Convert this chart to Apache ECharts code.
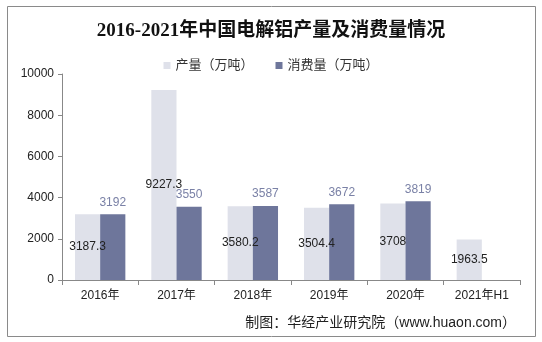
<!DOCTYPE html>
<html><head><meta charset="utf-8">
<script src="https://cdn.jsdelivr.net/npm/echarts@6/dist/echarts.min.js"></script>
<style>html,body{margin:0;padding:0;background:#fff}#c{width:542px;height:342px}</style>
</head><body><div id="c"></div>
<script>
var categories = ['2016年','2017年','2018年','2019年','2020年','2021年H1'];
var production = [3187.3, 9227.3, 3580.2, 3504.4, 3708, 1963.5];
var consumption = [3192, 3550, 3587, 3672, 3819, null];
var seriesNames = ['产量（万吨）','消费量（万吨）'];
var yTicks = [0, 2000, 4000, 6000, 8000, 10000];

var chart = echarts.init(document.getElementById('c'));
var font = '"Liberation Sans", Arial, "Noto Sans CJK SC", sans-serif';
chart.setOption({
  backgroundColor: '#fff',
  animation: false,
  textStyle: {fontFamily: font},
  title: {
    text: '2016-2021年中国电解铝产量及消费量情况',
    left: 'center', top: 17,
    textStyle: {fontSize: 19, fontWeight: 'bold', color: '#111', fontFamily: '"Liberation Serif", "Noto Sans CJK SC", serif'}
  },
  legend: {
    top: 54, left: 'center',
    itemWidth: 7, itemHeight: 7, itemGap: 22,
    icon: 'rect',
    textStyle: {fontSize: 13, color: '#333', fontFamily: font},
    data: seriesNames
  },
  graphic: [
    {type: 'rect', shape: {x: 7.5, y: 6.5, width: 528, height: 330}, style: {fill: 'none', stroke: '#8a8a8a', lineWidth: 1}, silent: true},
    {type: 'text', right: 26, top: 316, style: {text: '制图：华经产业研究院（www.huaon.com）', fontSize: 14, fill: '#222', fontFamily: font}}
  ],
  grid: {left: 62, right: 22, top: 74, bottom: 62},
  xAxis: {
    type: 'category', data: categories,
    axisLine: {lineStyle: {color: '#888'}},
    axisTick: {show: true, length: 5, lineStyle: {color: '#888'}},
    axisLabel: {fontSize: 12, color: '#222', margin: 10}
  },
  yAxis: {
    type: 'value', min: yTicks[0], max: yTicks[yTicks.length - 1], interval: yTicks[1] - yTicks[0],
    axisLine: {show: true, lineStyle: {color: '#888'}},
    axisTick: {show: true, length: 4, lineStyle: {color: '#888'}},
    splitLine: {show: false},
    axisLabel: {fontSize: 12, color: '#222', margin: 8, formatter: function (v) { return String(v); }}
  },
  series: [
    {
      name: seriesNames[0], type: 'bar', data: production,
      barGap: '0%', barCategoryGap: '34%',
      itemStyle: {color: '#dfe1ea'},
      label: {show: true, position: 'inside', fontSize: 12, color: '#222'}
    },
    {
      name: seriesNames[1], type: 'bar', data: consumption,
      itemStyle: {color: '#6e769b'},
      label: {show: true, position: 'top', fontSize: 12, color: '#7a81a6', distance: 6}
    }
  ]
});
</script></body></html>
